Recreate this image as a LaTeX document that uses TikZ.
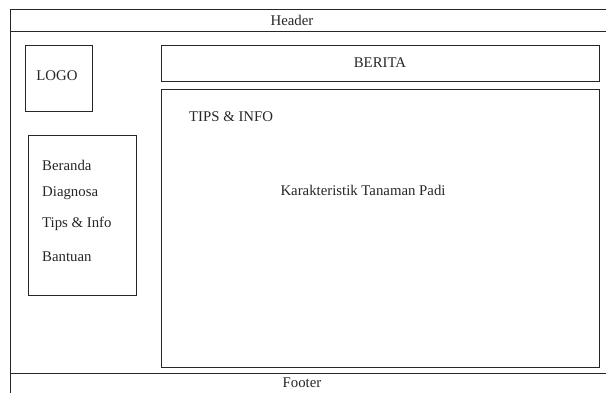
\documentclass[tikz,border=0pt]{standalone}
\usepackage{fontspec}
\setmainfont{Liberation Serif}
\begin{document}
\begin{tikzpicture}[x=1pt,y=-1pt,
  frame/.style={draw=black!85, line width=0.9pt, inner sep=0pt, outer sep=0pt, anchor=north west},
  lbl/.style={font=\fontsize{14.8}{16}\selectfont, text=black!85, inner sep=0pt},
  menuitem/.style={lbl, anchor=west}]
  \useasboundingbox (0,0) rectangle (606,392);
  % page frame with header and footer bands
  \node[frame, minimum width=610pt, minimum height=400pt] (page) at (10,9) {};
  \coordinate (hl) at (10,31);
  \coordinate (hr) at (620,31);
  \draw[black!85, line width=0.9pt] (hl) -- (hr);
  \coordinate (fl) at (10,373);
  \coordinate (fr) at (620,373);
  \draw[black!85, line width=0.9pt] (fl) -- (fr);
  \node[lbl] (header) at (292,20) {Header};
  \node[lbl] (footer) at (302,383) {Footer};
  % logo
  \node[frame, minimum width=67pt, minimum height=66pt] (logo) at (25,45) {};
  \node[lbl] (logotext) at (57,76) {LOGO};
  % navigation menu
  \node[frame, minimum width=108pt, minimum height=160pt] (menu) at (28,135) {};
  \node[menuitem] (m1) at (42,165) {Beranda};
  \node[menuitem] (m2) at (42,193) {Diagnosa};
  \node[menuitem] (m3) at (42,224) {Tips \& Info};
  \node[menuitem] (m4) at (42,257) {Bantuan};
  % news bar
  \node[frame, minimum width=438pt, minimum height=36pt] (berita) at (161,45) {};
  \node[lbl] (beritatext) at (380,63) {BERITA};
  % content area
  \node[frame, minimum width=438pt, minimum height=278pt] (content) at (161,89) {};
  \node[lbl, anchor=west] (tips) at (189,117) {TIPS \& INFO};
  \node[lbl] (karakter) at (363,190) {Karakteristik Tanaman Padi};
\end{tikzpicture}
\end{document}
